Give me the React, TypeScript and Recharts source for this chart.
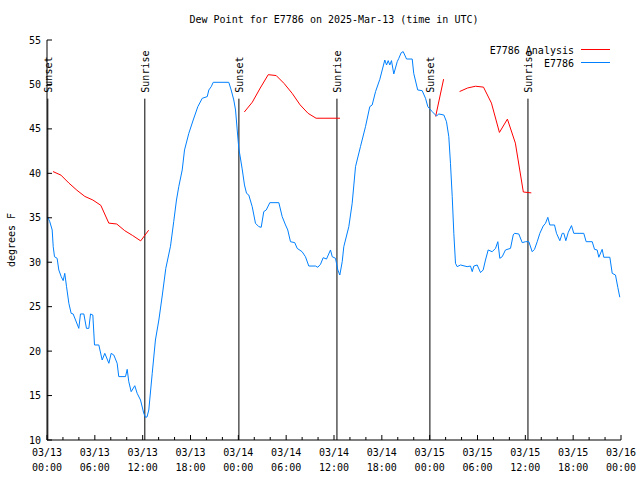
import React from 'react';
import { LineChart, Line, XAxis, YAxis, ReferenceLine } from 'recharts';

// hours since 03/13 00:00 UTC
const stationHours = [
  0.1, 0.35, 0.65, 0.78, 0.94, 1.27, 1.48, 1.78, 2.03, 2.23, 2.45, 2.74, 3.03, 3.28, 3.58, 3.99,
  4.2, 4.62, 4.95, 5.25, 5.46, 5.75, 5.96, 6.5, 6.92, 7.25, 7.76, 8.05, 8.38, 8.8, 9.0, 9.85,
  10.06, 10.26, 10.56, 11.01, 11.31, 11.73, 12.14, 12.36, 12.55, 12.77, 13.2, 13.6, 14.03, 14.45,
  14.9, 15.49, 15.9, 16.24, 16.53, 16.96, 17.25, 17.79, 18.34, 18.92, 19.47, 20.1, 20.3, 20.6,
  20.85, 22.8, 23.1, 23.43, 23.65, 23.86, 24.06, 24.48, 24.77, 25.03, 25.31, 25.74, 26.15, 26.57,
  26.87, 27.19, 27.5, 27.95, 29.08, 29.5, 29.92, 30.2, 30.54, 31.08, 31.38, 32.0, 32.42, 32.84,
  33.68, 33.97, 34.31, 34.64, 35.06, 35.56, 35.78, 36.19, 36.48, 36.73, 37.03, 37.23, 37.86,
  38.28, 38.7, 39.32, 39.95, 40.49, 40.79, 41.21, 41.75, 42.37, 42.59, 42.8, 43.0, 43.21, 43.5,
  43.93, 44.13, 44.43, 44.68, 45.1, 45.81, 46.0, 46.5, 47.06, 47.48, 47.77, 48.32, 48.86, 49.15,
  49.78, 50.11, 50.4, 50.61, 50.83, 51.03, 51.24, 51.45, 51.87, 52.7, 53.12, 53.34, 53.54, 53.96,
  54.38, 54.71, 55.0, 55.34, 55.84, 56.26, 56.55, 56.8, 57.1, 57.51, 58.14, 58.48, 58.64, 59.18,
  59.61, 60.02, 60.44, 60.86, 61.15, 61.49, 61.82, 62.24, 62.53, 62.82, 63.07, 63.66, 63.91,
  64.33, 64.63, 64.83, 65.08, 65.39, 65.79, 66.08, 67.33, 67.63, 68.39, 68.68, 69.01, 69.22,
  69.64, 69.84, 70.6, 70.9, 71.31, 71.6, 71.85,
];
const stationDew = [
  35.05, 34.56, 33.63, 31.75, 30.62, 30.44, 29.13, 28.38, 27.93, 28.75, 27.25, 25.38, 24.25, 24.18, 23.5, 22.56,
  24.18, 24.18, 22.56, 22.56, 24.18, 24.06, 20.69, 20.69, 19.0, 19.75, 18.63, 19.75, 19.56, 18.63, 17.13, 17.13,
  17.95, 16.56, 15.44, 16.11, 15.25, 14.5, 13.0, 12.55, 12.6, 13.38, 17.5, 21.25, 23.5, 26.2,
  29.3, 31.8, 34.6, 37.0, 38.5, 40.38, 42.63, 44.5, 46.0, 47.5, 48.44, 48.63, 49.38, 49.75,
  50.24, 50.24, 49.38, 48.25, 47.13, 44.88, 42.82, 40.5, 38.69, 37.75, 37.56, 36.25, 34.38, 34.0,
  33.93, 35.69, 35.88, 36.7, 36.7, 35.13, 34.19, 33.63, 32.31, 32.2, 31.56, 31.18, 30.62, 29.57,
  29.57, 29.43, 29.77, 30.51, 30.36, 31.38, 30.62, 30.44, 29.13, 28.56, 30.06, 31.75, 34.0,
  36.63, 40.75, 43.0, 45.25, 47.5, 47.69, 49.19, 50.58, 52.75, 52.19, 52.68, 52.19, 52.68, 51.18,
  52.56, 52.94, 53.57, 53.69, 52.86, 52.86, 51.25, 49.38, 49.3, 48.44, 47.5, 46.94, 46.45, 46.68,
  46.56, 45.81, 44.12, 41.13, 37.38, 33.25, 29.88, 29.5, 29.69, 29.5, 29.57, 28.94, 29.57, 29.69,
  28.83, 29.13, 30.25, 31.38, 31.18, 31.56, 32.31, 30.44, 30.62, 31.38, 31.56, 33.06, 33.25, 33.18,
  32.2, 32.31, 32.31, 31.18, 31.45, 32.31, 33.25, 34.07, 34.38, 35.05, 34.19, 34.19, 33.25,
  32.42, 33.25, 33.25, 32.42, 33.37, 34.12, 33.25, 33.25, 32.31, 32.31, 31.45, 31.38, 30.56,
  31.45, 30.56, 30.56, 28.75, 28.56, 27.18, 26.06,
];

// hourly analysis, null = gap
const analysisHours = [
  0.75, 1.75, 2.75, 3.75, 4.75, 5.75, 6.75, 7.75, 8.75, 9.75, 10.75, 11.75, 12.75, 18,
  24.75, 25.75, 26.75, 27.75, 28.75, 29.75, 30.75, 31.75, 32.75, 33.75, 34.75, 35.75, 36.75, 42,
  48.75, 49.75, 50.75,
  51.75, 52.75, 53.75, 54.75, 55.75, 56.75, 57.75, 58.75, 59.75, 60.75,
];
const analysisDew = [
  40.2, 39.8, 38.9, 38.1, 37.4, 37.0, 36.4, 34.4, 34.3, 33.55, 33.0, 32.4, 33.6, null,
  46.9, 48.0, 49.6, 51.1, 51.0, 50.1, 49.0, 47.7, 46.75, 46.2, 46.2, 46.2, 46.2, null,
  46.4, 50.6, null,
  49.2, 49.6, 49.8, 49.7, 47.9, 44.6, 46.1, 43.4, 37.9, 37.8,
];

const sunHours = [0.1, 12.27, 24.07, 36.37, 48.03, 60.33];
const sunLabels = ['Sunset', 'Sunrise', 'Sunset', 'Sunrise', 'Sunset', 'Sunrise'];

const xTicks = Array.from({ length: 37 }, (_, i) => i * 2);
const dayLabels = ['03/13', '03/13', '03/13', '03/13', '03/14', '03/14', '03/14', '03/14', '03/15', '03/15', '03/15', '03/15', '03/16'];
const timeLabels = ['00:00', '06:00', '12:00', '18:00', '00:00', '06:00', '12:00', '18:00', '00:00', '06:00', '12:00', '18:00', '00:00'];
const yTicks = [10, 15, 20, 25, 30, 35, 40, 45, 50, 55];

const FONT = "'DejaVu Sans Mono', monospace";
const BLUE = '#0080ff';
const RED = '#ff0000';

const stationData = stationHours.map((h, i) => ({ hour: h, dew: stationDew[i] }));
const analysisData = analysisHours.map((h, i) => ({ hour: h, dew: analysisDew[i] }));

const BottomTick = (props: any) => {
  const { x, y, payload } = props;
  const v = payload.value;
  const major = v % 6 === 0;
  return (
    <g>
      <line x1={x} x2={x} y1={y} y2={y - (major ? 5 : 3)} stroke="#000" />
      {major && (
        <text x={x} y={y + 16} textAnchor="middle" fontFamily={FONT} fontSize={10} fill="#000">
          <tspan x={x}>{dayLabels[v / 6]}</tspan>
          <tspan x={x} dy={15}>{timeLabels[v / 6]}</tspan>
        </text>
      )}
    </g>
  );
};

const TopTick = (props: any) => {
  const { x, y, payload } = props;
  const major = payload.value % 6 === 0;
  return <line x1={x} x2={x} y1={y} y2={y + (major ? 5 : 3)} stroke="#000" />;
};

const LeftTick = (props: any) => {
  const { x, y, payload } = props;
  return (
    <g>
      <line x1={x} x2={x + 5} y1={y} y2={y} stroke="#000" />
      <text x={x - 6} y={y} dy="0.35em" textAnchor="end" fontFamily={FONT} fontSize={10} fill="#000">
        {payload.value}
      </text>
    </g>
  );
};

const RightTick = (props: any) => {
  const { x, y } = props;
  return <line x1={x} x2={x - 5} y1={y} y2={y} stroke="#000" />;
};

const sunLabel = (text: string) => (props: any) => {
  const vb = props.viewBox;
  const x = vb.x + 4;
  const y = vb.y - 6;
  return (
    <text x={x} y={y} transform={`rotate(-90 ${x} ${y})`} fontFamily={FONT} fontSize={10} fill="#000">
      {text}
    </text>
  );
};

export default function App() {
  return (
    <div style={{ position: 'absolute', left: 0, top: 0, width: 640, height: 480, background: '#fff' }}>
      <LineChart width={640} height={480} margin={{ top: 40, right: 19, bottom: 0, left: 0 }}>
        <XAxis
          xAxisId="main"
          dataKey="hour"
          type="number"
          domain={[0, 72]}
          ticks={xTicks}
          interval={0}
          height={40}
          tickSize={0}
          tickMargin={0}
          tickLine={false}
          axisLine={{ stroke: '#000' }}
          tick={<BottomTick />}
          allowDataOverflow
        />
        <XAxis
          xAxisId="top"
          orientation="top"
          dataKey="hour"
          type="number"
          domain={[0, 72]}
          ticks={xTicks}
          interval={0}
          height={0}
          tickSize={0}
          tickMargin={0}
          tickLine={false}
          axisLine={{ stroke: '#000' }}
          tick={<TopTick />}
          allowDataOverflow
        />
        <YAxis
          yAxisId="left"
          type="number"
          domain={[10, 55]}
          ticks={yTicks}
          interval={0}
          width={47}
          tickSize={0}
          tickMargin={0}
          tickLine={false}
          axisLine={{ stroke: '#000' }}
          tick={<LeftTick />}
          allowDataOverflow
          label={(p: any) => {
            const vb = p.viewBox;
            const x = vb.x + 15;
            const y = vb.y + vb.height / 2;
            return (
              <text x={x} y={y} transform={`rotate(-90 ${x} ${y})`} textAnchor="middle" fontFamily={FONT} fontSize={10} fill="#000">
                degrees F
              </text>
            );
          }}
        />
        <YAxis
          yAxisId="right"
          orientation="right"
          type="number"
          domain={[10, 55]}
          ticks={yTicks}
          interval={0}
          width={0}
          tickSize={0}
          tickMargin={0}
          tickLine={false}
          axisLine={{ stroke: '#000' }}
          tick={<RightTick />}
          allowDataOverflow
        />
        {sunHours.map((h, i) => (
          <ReferenceLine
            key={i}
            xAxisId="main"
            yAxisId="left"
            segment={[{ x: h, y: 10 }, { x: h, y: 48.4 }]}
            stroke="#000"
            strokeWidth={1}
            label={sunLabel(sunLabels[i])}
          />
        ))}
        <Line
          xAxisId="main"
          yAxisId="left"
          data={analysisData}
          dataKey="dew"
          type="linear"
          stroke={RED}
          strokeWidth={1}
          dot={false}
          activeDot={false}
          connectNulls={false}
          isAnimationActive={false}
        />
        <Line
          xAxisId="main"
          yAxisId="left"
          data={stationData}
          dataKey="dew"
          type="linear"
          stroke={BLUE}
          strokeWidth={1}
          dot={false}
          activeDot={false}
          isAnimationActive={false}
        />
      </LineChart>
      <svg width={640} height={480} style={{ position: 'absolute', left: 0, top: 0, pointerEvents: 'none' }}>
        <text x={334} y={23} textAnchor="middle" fontFamily={FONT} fontSize={10} fill="#000">
          Dew Point for E7786 on 2025-Mar-13 (time in UTC)
        </text>
        <text x={574} y={53.5} textAnchor="end" fontFamily={FONT} fontSize={10} fill="#000">E7786 Analysis</text>
        <line x1={581} x2={610} y1={49.5} y2={49.5} stroke={RED} />
        <text x={574} y={66.5} textAnchor="end" fontFamily={FONT} fontSize={10} fill="#000">E7786</text>
        <line x1={581} x2={610} y1={62.5} y2={62.5} stroke={BLUE} />
      </svg>
    </div>
  );
}
